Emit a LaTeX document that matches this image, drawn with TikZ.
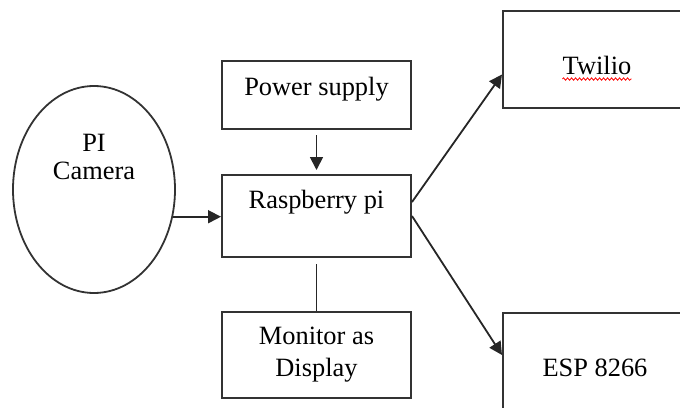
\documentclass[tikz,border=0pt]{standalone}
\usepackage{fontspec}
\setmainfont{Liberation Serif}
\usetikzlibrary{arrows.meta,shapes.geometric,decorations.pathmorphing}
\tikzset{
	blk/.style={draw=black!80, line width=1pt, inner sep=0pt, minimum width=94.5pt},
	lbl/.style={font=\fontsize{13.2}{14}\selectfont, align=center, inner sep=0pt},
	arr/.style={-{Triangle[length=6.5pt,width=6.5pt]}, draw=black!85, line width=0.9pt}
}

\begin{document}
\begin{tikzpicture}[x=0.5pt, y=-0.5pt]
	\useasboundingbox (0,0) rectangle (680,407);
	\clip (0,0) rectangle (680,407);

	% Camera
	\node[ellipse, draw=black!80, line width=0.9pt, minimum width=81pt, minimum height=103.5pt, inner sep=0pt] (cam) at (94,189.5) {};
	\node[lbl] (camtxt) at (94,157) {PI\\Camera};

	% Middle column
	\node[blk, minimum height=34pt] (pwr) at (316.5,95) {};
	\node[lbl] (pwrtxt) at (316.5,89) {Power supply};
	\node[blk, minimum height=41pt] (rpi) at (316.5,216) {};
	\node[lbl] (rpitxt) at (316.5,202) {Raspberry pi};
	\node[blk, minimum height=43pt] (mon) at (316.5,355) {};
	\node[lbl, font=\fontsize{13.2}{16}\selectfont] (montxt) at (316.5,355) {Monitor as\\Display};

	% Right column
	\node[blk, minimum width=108.5pt, minimum height=48.5pt] (twl) at (611.5,59.5) {};
	\node[lbl] (twltxt) at (597,65) {Twilio};
	\draw[red, line width=0.4pt, decorate, decoration={snake, amplitude=0.6pt, segment length=2pt}]
		([yshift=-2.5pt]twltxt.base west) -- ([yshift=-2.5pt]twltxt.base east);
	\node[blk, minimum width=108.5pt, minimum height=63.5pt] (esp) at (611.5,376.5) {};
	\node[lbl] (esptxt) at (595,368) {ESP 8266};

	% Connectors
	\draw[arr] (cam.-19) -- (cam.-19 -| rpi.west);
	\draw[arr, shorten <=2.5pt, shorten >=2pt] (pwr.south) -- (rpi.north);
	\draw[draw=black!85, line width=0.9pt, shorten <=3pt] (rpi.south) -- (mon.north);
	\draw[arr] ([yshift=7pt]rpi.east) -- ([yshift=-7.5pt]twl.west);
	\draw[arr] (rpi.east) -- ([yshift=10.75pt]esp.west);
\end{tikzpicture}
\end{document}
